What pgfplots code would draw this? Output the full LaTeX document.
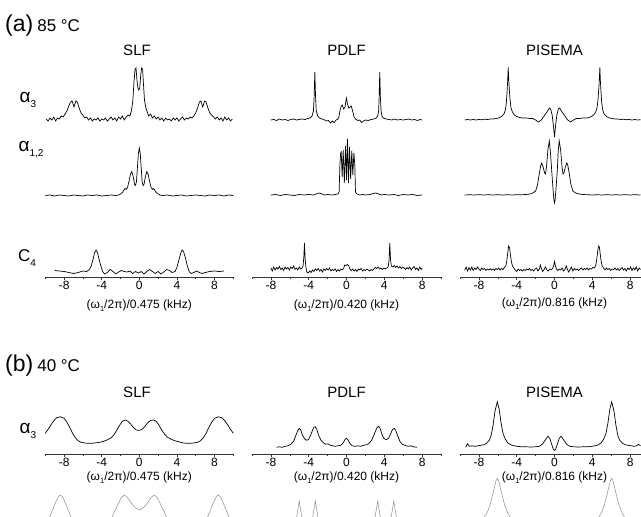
\documentclass[border=0pt]{standalone}
\usepackage{fontspec}
\setmainfont{Liberation Sans}
\usepackage{pgfplots}
\pgfplotsset{compat=1.18}

\newcommand{\sub}[1]{\raisebox{-0.5ex}{\fontsize{10}{10}\selectfont #1}}
\newcommand{\wlabel}[1]{(ω\raisebox{-0.45ex}{\fontsize{7.5}{7.5}\selectfont 1}/2π)/#1 (kHz)}

\pgfplotsset{
  trace/.style={hide axis, clip=false, y=1pt, ymin=-30, ymax=70, anchor=south west},
  xaxis/.style={clip=false, y=1pt, ymax=70, anchor=south west,
    axis x line=bottom, axis y line=none,
    x axis line style={-, line width=0.6pt, black!80},
    xtick={-8,-4,0,4,8}, minor xtick={-10,-6,-2,2,6,10},
    tick align=outside, major tick length=3pt, minor tick length=2pt,
    tick style={line width=0.6pt, black!80},
    ticklabel style={font=\fontsize{12}{12}\selectfont, inner sep=1pt},
    /pgf/number format/assume math mode=true,
    xlabel style={font=\fontsize{12}{12}\selectfont, anchor=center}},
  slf/.style={x=9.4pt, xmin=-10, xmax=10},
  pdlf/.style={x=9.45pt, xmin=-10, xmax=10},
  pis/.style={x=9.45pt, xmin=-10, xmax=9.2},
  spec/.style={black, line width=0.7pt},
  sim/.style={black!45, line width=0.5pt},
}

\begin{document}
\begin{tikzpicture}
\useasboundingbox (0,0) rectangle (641pt,-517pt);
\clip (0,0) rectangle (641pt,-517pt);

% ---------- (a) 85 C ----------
\node[anchor=base west, inner sep=0] at (5pt,-31pt) {\fontsize{23}{23}\selectfont (a)\hspace{4pt}\fontsize{17}{17}\selectfont 85 °C};
\node at (137pt,-50pt) {\fontsize{15}{15}\selectfont SLF};
\node at (346.5pt,-50pt) {\fontsize{15}{15}\selectfont PDLF};
\node at (554.5pt,-50pt) {\fontsize{15}{15}\selectfont PISEMA};
\node at (28pt,-100pt) {\fontsize{19}{19}\selectfont α\sub{3}};
\node at (31pt,-150pt) {\fontsize{19}{19}\selectfont α\sub{1,2}};
\node at (27pt,-258pt) {\fontsize{17}{17}\selectfont C\sub{4}};

% SLF alpha3
\begin{axis}[trace, slf, at={(45.3pt,-150pt)}]
\addplot[spec] coordinates {(-9.9,1) (-9.7,-1) (-9.5,2) (-9.3,0) (-9.1,3) (-8.9,-1) (-8.7,2) (-8.5,1) (-8.3,4) (-8.1,3) (-7.9,6) (-7.7,9) (-7.5,14) (-7.3,18) (-7.15,19) (-6.95,13) (-6.75,19) (-6.6,18) (-6.4,12) (-6.2,7) (-6.0,5) (-5.8,2) (-5.6,3) (-5.4,0) (-5.2,2) (-5.0,-1) (-4.8,1) (-4.6,0) (-4.4,2) (-4.2,-1) (-4.0,1) (-3.8,0) (-3.6,2) (-3.4,-1) (-3.2,1) (-3.0,3) (-2.8,0) (-2.6,2) (-2.4,-1) (-2.2,3) (-2.0,1) (-1.8,4) (-1.6,0) (-1.4,3) (-1.2,5) (-1.0,4) (-0.85,9) (-0.7,18) (-0.55,40) (-0.45,51) (-0.35,52) (-0.25,40) (-0.15,32) (-0.05,30) (0.05,32) (0.15,45) (0.25,52) (0.35,51) (0.45,35) (0.55,20) (0.7,12) (0.85,8) (1.0,4) (1.2,6) (1.4,2) (1.6,4) (1.8,1) (2.0,3) (2.2,0) (2.4,2) (2.6,-1) (2.8,2) (3.0,0) (3.2,1) (3.4,-1) (3.6,2) (3.8,0) (4.0,2) (4.2,-1) (4.4,1) (4.6,3) (4.8,0) (5.0,2) (5.2,1) (5.4,3) (5.6,2) (5.8,4) (6.0,7) (6.2,12) (6.4,18) (6.55,19) (6.75,13) (6.95,19) (7.1,18) (7.3,12) (7.5,7) (7.7,5) (7.9,3) (8.1,1) (8.3,3) (8.5,0) (8.7,2) (8.9,-1) (9.1,3) (9.3,0) (9.5,2) (9.7,-1) (9.9,1)};
\end{axis}
% SLF alpha1,2
\begin{axis}[trace, slf, at={(45.3pt,-225.5pt)}]
\addplot[spec] coordinates {(-10,0) (-9.5,0.5) (-9,-0.5) (-8.5,0.5) (-8,0) (-7.5,-0.5) (-7,0.5) (-6.5,0) (-6,-0.5) (-5.5,0.5) (-5,0) (-4.5,0.5) (-4,-0.5) (-3.5,0) (-3,0.5) (-2.5,0) (-2.2,0.5) (-2,1.5) (-1.8,3) (-1.6,6) (-1.5,7) (-1.4,6) (-1.25,8) (-1.1,14) (-0.95,21) (-0.8,24) (-0.65,19) (-0.5,11) (-0.4,10) (-0.3,14) (-0.2,28) (-0.1,42) (0,47.5) (0.1,42) (0.2,28) (0.3,14) (0.4,10) (0.5,11) (0.65,19) (0.8,24) (0.95,21) (1.1,14) (1.25,8) (1.4,6) (1.5,7) (1.6,6) (1.8,3) (2,1.5) (2.2,0.5) (2.5,0) (3,0.5) (3.5,-0.5) (4,0) (4.5,0.5) (5,-0.5) (5.5,0) (6,0.5) (6.5,0) (7,-0.5) (7.5,0.5) (8,0) (8.5,0.5) (9,-0.5) (9.5,0.5) (10,0)};
\end{axis}
% SLF C4 with axis
\begin{axis}[xaxis, slf, ymin=-5.5, at={(45.3pt,-277pt)}, xlabel={\wlabel{0.475}}, xlabel style={at={(axis cs:0,-5.5)}, yshift=-29pt}]
\addplot[spec] coordinates {(-9,1) (-8.5,0.5) (-8,0) (-7.5,-1) (-7,-2) (-6.5,-1) (-6,0.5) (-5.6,0) (-5.3,2) (-5.1,6) (-4.9,13) (-4.75,19) (-4.6,21.5) (-4.45,19) (-4.3,13) (-4.1,6) (-3.9,0) (-3.7,-2.5) (-3.4,-1) (-3.1,2) (-2.8,0) (-2.5,-2.5) (-2.2,-0.5) (-1.9,1) (-1.6,0) (-1.3,-0.5) (-1.0,0.5) (-0.7,-2) (-0.4,0) (-0.1,-1.5) (0.2,0) (0.5,-2.5) (0.8,0) (1.1,2) (1.4,0) (1.7,-2) (2.0,0) (2.3,-2.5) (2.6,-0.5) (2.9,2) (3.2,1) (3.5,-1) (3.8,0) (4.0,4) (4.2,11) (4.4,18) (4.55,21.5) (4.7,20) (4.9,14) (5.1,6) (5.3,0) (5.5,-2) (5.8,-1) (6.1,0.5) (6.4,-1) (6.7,-2) (7.0,-1) (7.5,0) (8,0.5) (8.5,0) (9,0.5)};
\end{axis}

% PDLF alpha3
\begin{axis}[trace, pdlf, at={(252pt,-150pt)}]
\addplot[spec] coordinates {(-8,0) (-7.7,0.5) (-7.4,-0.5) (-7.1,1) (-6.8,0) (-6.5,0.5) (-6.2,-0.5) (-5.9,0.5) (-5.6,1) (-5.3,0) (-5,0.5) (-4.7,1) (-4.4,0.5) (-4.1,1.5) (-3.85,2) (-3.65,4) (-3.5,9) (-3.43,22) (-3.35,48) (-3.27,22) (-3.2,9) (-3.05,4) (-2.85,2) (-2.6,1) (-2.3,0) (-2.1,-1) (-1.9,-0.5) (-1.7,-3) (-1.5,-1) (-1.3,-2.5) (-1.1,0) (-0.9,1) (-0.8,3) (-0.7,9) (-0.55,14) (-0.45,15) (-0.3,11) (-0.15,13) (-0.05,20) (0,22) (0.1,16) (0.25,12) (0.4,13) (0.5,14) (0.65,9) (0.8,3) (0.95,1) (1.2,-0.5) (1.4,0) (1.6,-2.5) (1.8,-1) (2.0,0) (2.3,-0.5) (2.6,0.5) (2.9,1) (3.15,2) (3.3,4) (3.4,9) (3.45,22) (3.52,48) (3.59,22) (3.66,9) (3.75,4) (3.9,2) (4.2,1) (4.5,0.5) (4.8,0) (5.1,1) (5.4,0) (5.7,0.5) (6,0) (6.3,0.5) (6.6,1) (6.9,0) (7.2,0.5) (7.5,-0.5) (7.8,0.5) (8,0)};
\end{axis}
% PDLF alpha1,2
\begin{axis}[trace, pdlf, at={(252pt,-225pt)}]
\addplot[spec] coordinates {(-8,0) (-7.5,0.5) (-7,-0.5) (-6.5,0.5) (-6,0) (-5.5,-0.5) (-5,0.5) (-4.5,0) (-4,0.5) (-3.5,0) (-3.2,1) (-2.9,2) (-2.6,1) (-2.3,0) (-2,0.5) (-1.5,0) (-1.2,0.5) (-0.9,1) (-0.78,3) (-0.7,30) (-0.62,42) (-0.56,43) (-0.46,18) (-0.35,45) (-0.23,12) (-0.1,49) (0,15) (0.1,56) (0.21,12) (0.32,48) (0.44,16) (0.56,44) (0.67,20) (0.78,42) (0.88,30) (0.95,3) (1.1,1) (1.4,0) (1.7,0.5) (2,0) (2.5,0.5) (2.8,1.5) (3.1,2) (3.4,1) (3.7,0) (4,0.5) (4.5,0) (5,0.5) (5.5,-0.5) (6,0.5) (6.5,0) (7,0.5) (7.5,-0.5) (8,0)};
\end{axis}
% PDLF C4 with axis
\begin{axis}[xaxis, pdlf, ymin=-7, at={(252pt,-277pt)}, xlabel={\wlabel{0.420}}, xlabel style={at={(axis cs:0,-7)}, yshift=-29pt}]
\addplot[spec] coordinates {(-8,2) (-7.85,-1) (-7.7,3) (-7.55,0) (-7.4,2.5) (-7.25,1) (-7.1,3.5) (-6.95,0.5) (-6.8,2) (-6.65,-0.5) (-6.5,3) (-6.35,1) (-6.2,2.5) (-6.05,0) (-5.9,3) (-5.75,1.5) (-5.6,4) (-5.45,0.5) (-5.3,2) (-5.15,0) (-5,3) (-4.85,1) (-4.7,2) (-4.6,4) (-4.52,12) (-4.45,27) (-4.38,12) (-4.3,3) (-4.2,-2) (-4.05,-3) (-3.9,-1) (-3.75,-2.5) (-3.6,0) (-3.45,-1.5) (-3.3,1) (-3.15,-0.5) (-3,1.5) (-2.85,-1) (-2.7,0.5) (-2.55,-2) (-2.4,1) (-2.25,-0.5) (-2.1,1.5) (-1.95,0) (-1.8,2) (-1.65,-1) (-1.5,0.5) (-1.35,-0.5) (-1.2,1) (-1.05,-1.5) (-0.9,0.5) (-0.75,-1) (-0.6,1) (-0.45,0) (-0.3,1.5) (-0.2,5) (-0.05,4.5) (0.1,5.5) (0.25,4) (0.35,1) (0.5,-0.5) (0.65,1) (0.8,-1) (0.95,0.5) (1.1,-1.5) (1.25,1) (1.4,0) (1.55,1.5) (1.7,-1) (1.85,0.5) (2,-0.5) (2.15,1) (2.3,0) (2.45,-1) (2.6,0.5) (2.75,-0.5) (2.9,1) (3.05,2.5) (3.2,1.5) (3.35,3) (3.5,1) (3.65,2) (3.8,0.5) (3.95,2) (4.1,1) (4.25,2) (4.4,3) (4.5,9) (4.58,27) (4.66,10) (4.75,4) (4.9,3) (5.05,4.5) (5.2,2.5) (5.35,4) (5.5,2) (5.65,3.5) (5.8,1.5) (5.95,3) (6.1,2) (6.25,0.5) (6.4,2.5) (6.55,1) (6.7,3) (6.85,0) (7,2) (7.15,3.5) (7.3,0.5) (7.45,2) (7.6,-0.5) (7.75,3) (7.9,0.5) (8,2)};
\end{axis}

% PISEMA alpha3
\begin{axis}[trace, pis, at={(460pt,-150pt)}]
\addplot[spec] coordinates {(-9.5,0) (-9.2,0.5) (-8.9,0) (-8.6,0.5) (-8.3,0) (-8,0.5) (-7.7,0.3) (-7.4,0.8) (-7.1,0.5) (-6.8,1) (-6.5,1) (-6.2,1.5) (-5.9,2) (-5.6,3.5) (-5.35,6) (-5.2,10) (-5.1,17) (-5.02,28) (-4.95,40) (-4.9,52.5) (-4.85,42) (-4.78,30) (-4.7,20) (-4.6,12) (-4.45,8) (-4.25,5) (-4,3.5) (-3.7,2.5) (-3.4,2) (-3,2) (-2.6,1.5) (-2.3,1.5) (-2,0) (-1.7,-2) (-1.4,0) (-1.1,4) (-0.8,8) (-0.55,12) (-0.4,11) (-0.25,5) (-0.12,-5) (0,-17) (0.12,-5) (0.25,5) (0.4,11) (0.55,12) (0.8,8) (1.1,4) (1.4,0) (1.7,-2) (2,0) (2.3,1.5) (2.6,1.5) (3,2) (3.4,2) (3.7,2.5) (3.9,3.5) (4.15,5) (4.35,8) (4.5,12) (4.6,20) (4.68,30) (4.75,42) (4.8,52.5) (4.85,40) (4.92,28) (5.0,17) (5.1,10) (5.25,6) (5.5,3.5) (5.8,2) (6.1,1.5) (6.4,1) (6.7,1) (7,0.5) (7.3,0.8) (7.6,0.3) (7.9,0.5) (8.2,0) (8.5,0.5) (8.8,0) (9.1,0.3)};
\end{axis}
% PISEMA alpha1,2
\begin{axis}[trace, pis, at={(460pt,-225pt)}]
\addplot[spec] coordinates {(-9.5,0) (-9,0.3) (-8.5,0) (-8,0.3) (-7.5,0) (-7,0.3) (-6.5,0) (-6,0.3) (-5.5,0) (-5,0.3) (-4.5,0) (-4,0.3) (-3.5,0.3) (-3,0.5) (-2.6,1) (-2.3,2) (-2.0,4) (-1.8,10) (-1.6,22) (-1.45,30) (-1.35,32) (-1.2,28) (-1.05,22) (-0.95,21) (-0.85,28) (-0.7,45) (-0.55,54) (-0.45,45) (-0.3,25) (-0.15,5) (-0.05,-6) (0,-8) (0.05,-6) (0.15,5) (0.3,25) (0.4,45) (0.5,54) (0.65,45) (0.8,28) (0.9,21) (1.0,22) (1.15,28) (1.3,32) (1.4,30) (1.55,22) (1.75,10) (1.95,4) (2.25,2) (2.6,1) (3,0.5) (3.5,0.3) (4,0) (4.5,0.3) (5,0) (5.5,0.3) (6,0) (6.5,0.3) (7,0) (7.5,0.3) (8,0) (8.5,0.3) (9.1,0)};
\end{axis}
% PISEMA C4 with axis
\begin{axis}[xaxis, pis, ymin=-7, at={(460pt,-277pt)}, xlabel={\wlabel{0.816}}, xlabel style={at={(axis cs:0,-7)}, yshift=-27pt}]
\addplot[spec] coordinates {(-9.5,0) (-9.35,3) (-9.2,-1) (-9.05,2.5) (-8.9,0) (-8.75,3) (-8.6,-0.5) (-8.45,2) (-8.3,0.5) (-8.15,3) (-8,1) (-7.85,-0.5) (-7.7,2) (-7.55,0.5) (-7.4,1.5) (-7.25,-0.5) (-7.1,1) (-6.95,0) (-6.8,1.5) (-6.65,0) (-6.5,1) (-6.35,-0.5) (-6.2,1.5) (-6.05,0.5) (-5.9,2) (-5.75,0) (-5.6,1.5) (-5.45,0.5) (-5.3,2.5) (-5.15,4) (-5.05,9) (-4.95,17) (-4.85,24) (-4.75,22) (-4.65,14) (-4.55,8) (-4.45,4) (-4.3,2) (-4.15,0) (-4,-1.5) (-3.85,1) (-3.7,-0.5) (-3.55,0.5) (-3.4,-1) (-3.25,0.5) (-3.1,-0.5) (-2.95,1) (-2.8,0) (-2.65,1.5) (-2.5,-0.5) (-2.35,0.5) (-2.2,-1) (-2.05,1) (-1.9,2) (-1.75,-1) (-1.6,1) (-1.5,5) (-1.4,2) (-1.25,-1.5) (-1.1,0.5) (-0.95,3) (-0.8,0) (-0.65,-1) (-0.5,1) (-0.35,0.5) (-0.2,1.5) (-0.1,4) (0,8.5) (0.1,4) (0.2,1) (0.35,-0.5) (0.5,1) (0.65,0) (0.8,2) (0.95,-1) (1.1,0.5) (1.25,4) (1.35,1) (1.5,-2) (1.65,0.5) (1.8,3) (1.95,-1) (2.1,1.5) (2.25,0) (2.4,1) (2.55,-0.5) (2.7,1) (2.85,2) (3,0) (3.15,1.5) (3.3,0.5) (3.45,2) (3.6,0) (3.75,1.5) (3.9,1) (4.05,2.5) (4.2,2) (4.35,4) (4.45,9) (4.55,17) (4.65,24) (4.75,23) (4.85,15) (4.95,8) (5.05,4) (5.2,2) (5.35,0) (5.5,2) (5.65,0.5) (5.8,1.5) (5.95,-0.5) (6.1,1) (6.25,0.5) (6.4,2) (6.55,0) (6.7,1.5) (6.85,-0.5) (7,1) (7.15,2.5) (7.3,0) (7.45,1.5) (7.6,-1) (7.75,2) (7.9,0.5) (8.05,3) (8.2,-0.5) (8.35,2) (8.5,0) (8.65,3) (8.8,-1) (8.95,2) (9.1,0.5)};
\end{axis}

% ---------- (b) 40 C ----------
\node[anchor=base west, inner sep=0] at (5pt,-371pt) {\fontsize{23}{23}\selectfont (b)\hspace{4pt}\fontsize{17}{17}\selectfont 40 °C};
\node at (137pt,-392pt) {\fontsize{15}{15}\selectfont SLF};
\node at (346.5pt,-392pt) {\fontsize{15}{15}\selectfont PDLF};
\node at (554.5pt,-392pt) {\fontsize{15}{15}\selectfont PISEMA};
\node at (28pt,-431pt) {\fontsize{19}{19}\selectfont α\sub{3}};

% SLF
\begin{axis}[xaxis, slf, ymin=-10.7, at={(45.3pt,-454pt)}, xlabel={\wlabel{0.475}}, xlabel style={at={(axis cs:0,-10.7)}, yshift=-24pt}]
\addplot[spec] coordinates {(-10,10) (-9.7,14) (-9.4,18.5) (-9.1,22.5) (-8.8,25.5) (-8.4,26.5) (-8.0,25) (-7.7,21) (-7.4,16) (-7.1,10) (-6.8,5.5) (-6.5,2.5) (-6.2,1) (-5.8,0.3) (-5.4,0) (-5,0) (-4.6,0.5) (-4.2,1) (-3.8,2) (-3.4,3.5) (-3.0,5.5) (-2.7,8.5) (-2.4,13) (-2.1,18) (-1.8,22) (-1.5,23.3) (-1.2,22) (-0.9,19) (-0.6,15.5) (-0.3,13.2) (0,13) (0.3,14) (0.6,17) (0.9,20.5) (1.2,23) (1.5,23.3) (1.8,22) (2.1,18) (2.4,13) (2.7,9) (3.0,6) (3.4,4) (3.8,2.5) (4.2,1.5) (4.6,0.5) (5,0) (5.4,0) (5.8,0.3) (6.2,1) (6.5,2.5) (6.8,5.5) (7.1,10) (7.4,16) (7.7,21) (8.0,25) (8.4,26.5) (8.8,25.5) (9.1,22.5) (9.4,18.5) (9.7,14) (10,10)};
\end{axis}
\begin{axis}[trace, slf, at={(45.3pt,-560pt)}]
\addplot[sim] coordinates {(-10,5) (-9.7,10) (-9.4,16) (-9.1,23) (-8.8,30) (-8.6,33.5) (-8.4,35) (-8.2,33.5) (-8,30) (-7.7,23) (-7.4,16) (-7.1,10) (-6.8,5) (-6.4,1) (-4,0) (-3.5,4) (-3.0,11) (-2.6,19) (-2.2,27) (-1.9,32.5) (-1.6,35) (-1.3,33) (-1,29) (-0.7,25) (-0.4,22) (0,20) (0.4,22) (0.7,25) (1,29) (1.3,33) (1.6,35) (1.9,32.5) (2.2,27) (2.6,19) (3,11) (3.5,4) (4,0) (6.4,1) (6.8,5) (7.1,10) (7.4,16) (7.7,23) (8,30) (8.2,33.5) (8.4,35) (8.6,33.5) (8.8,30) (9.1,23) (9.4,16) (9.7,10) (10,5)};
\end{axis}

% PDLF
\begin{axis}[xaxis, pdlf, ymin=-6.7, at={(252pt,-454pt)}, xlabel={\wlabel{0.420}}, xlabel style={at={(axis cs:0,-6.7)}, yshift=-24pt}]
\addplot[spec] coordinates {(-7.4,0) (-7.1,0.5) (-6.8,0) (-6.5,1) (-6.2,1.5) (-5.9,3) (-5.6,6) (-5.35,12) (-5.15,17) (-5.0,19) (-4.85,17.5) (-4.65,12) (-4.4,8) (-4.2,7) (-4.0,8) (-3.8,12) (-3.6,17) (-3.45,20) (-3.3,20.5) (-3.15,18) (-2.95,12) (-2.7,7) (-2.45,4.5) (-2.2,3) (-1.95,3.5) (-1.7,2) (-1.45,1.5) (-1.2,1) (-0.9,1.5) (-0.6,2) (-0.35,4.5) (-0.15,8) (0,9) (0.15,7.5) (0.35,4) (0.6,1.5) (0.9,1) (1.2,1.5) (1.5,1) (1.8,2) (2.1,2.5) (2.4,4) (2.65,7) (2.9,12) (3.1,17) (3.25,20) (3.4,21) (3.55,19) (3.75,13) (3.95,9) (4.2,7.5) (4.45,9) (4.65,13) (4.85,17.5) (5.05,19) (5.2,17) (5.4,12) (5.65,6) (5.9,3) (6.2,2) (6.5,1) (6.8,1.5) (7.1,0.5) (7.45,0)};
\end{axis}
\begin{axis}[trace, pdlf, at={(252pt,-560pt)}]
\addplot[sim] coordinates {(-6,0) (-5.5,5) (-5.3,12) (-5.15,20) (-5.05,26) (-5,29) (-4.95,26) (-4.85,20) (-4.7,12) (-4.5,6) (-4.15,3) (-3.8,6) (-3.6,12) (-3.45,20) (-3.35,26) (-3.3,29) (-3.25,26) (-3.15,20) (-3.0,12) (-2.8,5) (-2.3,0) (2.3,0) (2.8,5) (3.0,12) (3.15,20) (3.25,26) (3.3,29) (3.35,26) (3.45,20) (3.6,12) (3.8,6) (4.15,3) (4.5,6) (4.7,12) (4.85,20) (4.95,26) (5,29) (5.05,26) (5.15,20) (5.3,12) (5.5,5) (6,0)};
\end{axis}

% PISEMA
\begin{axis}[xaxis, pis, ymin=-6.7, at={(460pt,-454pt)}, xlabel={\wlabel{0.816}}, xlabel style={at={(axis cs:0,-6.7)}, yshift=-24pt}]
\addplot[spec] coordinates {(-9.4,0) (-9.2,3.5) (-9.0,1) (-8.7,1.5) (-8.4,1) (-8.1,1.5) (-7.8,2) (-7.5,2.5) (-7.2,4) (-6.9,7) (-6.7,12) (-6.5,22) (-6.3,36) (-6.05,45.5) (-5.85,38) (-5.65,24) (-5.45,14) (-5.2,8) (-4.9,4) (-4.5,2) (-4,1) (-3.5,0.5) (-3,0.5) (-2.5,0.3) (-2,0.5) (-1.6,1) (-1.3,3) (-1.0,7) (-0.7,11) (-0.5,9) (-0.3,3) (-0.12,-2) (0,-3) (0.12,-2) (0.3,3) (0.5,9) (0.7,11) (1.0,7) (1.3,3) (1.6,1) (2,0.5) (2.5,0.3) (3,0.5) (3.5,0.5) (4,1) (4.5,2) (4.9,4) (5.2,8) (5.45,14) (5.65,24) (5.85,38) (6.05,45.5) (6.3,36) (6.5,22) (6.7,12) (6.9,7) (7.2,4) (7.5,2.5) (7.8,2) (8.1,1.5) (8.4,1) (8.7,1.5) (8.9,3) (9.1,1.5)};
\end{axis}
\begin{axis}[trace, pis, at={(460pt,-560pt)}]
\addplot[sim] coordinates {(-8.5,4) (-7.85,8) (-7.4,13) (-7.05,19) (-6.8,26) (-6.55,35) (-6.35,43) (-6.2,49) (-6.05,51.7) (-5.9,49) (-5.75,43) (-5.55,35) (-5.3,26) (-5.05,19) (-4.7,13) (-4.25,8) (-3.5,4) (3.5,4) (4.25,8) (4.7,13) (5.05,19) (5.3,26) (5.55,35) (5.75,43) (5.9,49) (6.05,51.7) (6.2,49) (6.35,43) (6.55,35) (6.8,26) (7.05,19) (7.4,13) (7.85,8) (8.5,4)};
\end{axis}
\end{tikzpicture}
\end{document}
